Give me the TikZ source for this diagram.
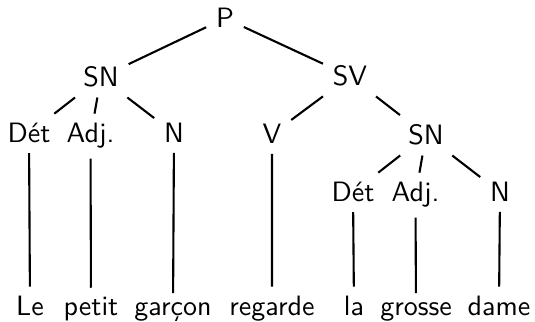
\documentclass[tikz,border=0pt]{standalone}
\usepackage{tikz}
\usetikzlibrary{positioning}
\tikzset{every node/.style={font=\sffamily, anchor=base},
         branch/.style={line width=0.75pt}}

\begin{document}
\begin{tikzpicture}[x=0.357pt, y=-0.357pt]
    \useasboundingbox (0,0) rectangle (535,322);
    % categories
    \node (p) at (225,28) {P};
    \node (sn1) at (101,87) {SN};
    \node (sv) at (350,86) {SV};
    \node (det1) at (29,143) {Dét};
    \node (adj1) at (90.5,143) {Adj.};
    \node (n1) at (174,143) {N};
    \node (v) at (272,144) {V};
    \node (sn2) at (426,145) {SN};
    \node (det2) at (353,202) {Dét};
    \node (adj2) at (415.5,202) {Adj.};
    \node (n2) at (500,202) {N};
    % words
    \node (le) at (30,316) {Le};
    \node (petit) at (91,316) {petit};
    \node (garcon) at (173,316) {garçon};
    \node (regarde) at (272,316) {regarde};
    \node (la) at (354,316) {la};
    \node (grosse) at (416,316) {grosse};
    \node (dame) at (499,316) {dame};
    \draw[branch] (p) -- (sn1)  (p) -- (sv)
          (sn1) -- (det1)  (sn1) -- (adj1)  (sn1) -- (n1)
          (sv) -- (v)  (sv) -- (sn2)
          (sn2) -- (det2)  (sn2) -- (adj2)  (sn2) -- (n2)
          (det1) -- (le)  (adj1) -- (petit)  (n1) -- (garcon)
          (v) -- (regarde)  (det2) -- (la)  (adj2) -- (grosse)
          (n2) -- (dame);
\end{tikzpicture}
\end{document}
